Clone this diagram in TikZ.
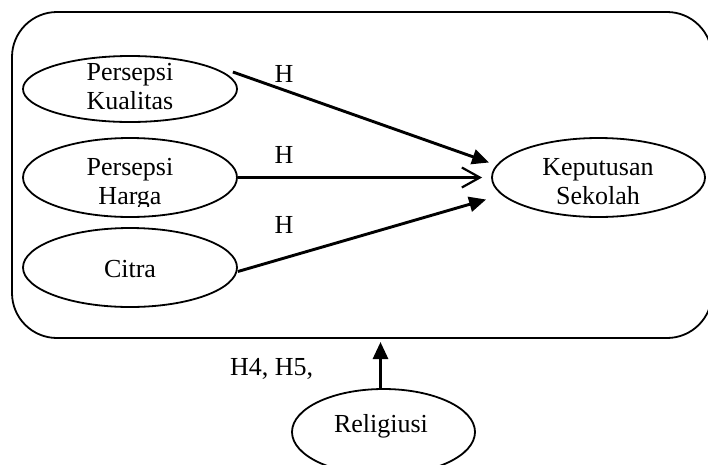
\documentclass[tikz,border=0pt]{standalone}
\usepackage{fontspec}
\setmainfont{Liberation Serif}
\usetikzlibrary{shapes.geometric,arrows.meta,calc}
\begin{document}
\begin{tikzpicture}[x=1pt,y=-1pt,
  txt/.style={font=\fontsize{26}{29}\selectfont, anchor=base, inner sep=0pt},
  oval/.style={draw, ellipse, line width=1.8pt, inner sep=0pt, minimum width=214pt, minimum height=79pt},
  conn/.style={line width=2.9pt},
  tri/.style={conn, -{Triangle[length=17pt,width=15pt]}},
  barb/.style={conn, -{Straight Barb[length=18pt,width=20pt,line width=2.2pt]}},
  frame/.style={draw, line width=1.8pt, rounded corners=45pt}]
\useasboundingbox (0,0) rectangle (708,464);

% outer frame
\draw[frame] (12,12) rectangle (712,338);

% ellipses
\node[oval, minimum height=66pt] (pk) at (130,89) {};
\node[oval] (ph) at (130,177.5) {};
\node[oval] (ci) at (130,267.5) {};
\node[oval, minimum width=213pt] (kep) at (598.5,177.5) {};
\node[oval, minimum width=183pt, minimum height=86pt] (rel) at (383.5,432) {};

% texts
\node[txt] (tpk1) at (130,80) {Persepsi};
\node[txt] (tpk2) at (130,109) {Kualitas};
\node[txt] (tph1) at (130,175) {Persepsi};
\begin{scope}
  \clip (0,0) rectangle (708,206);
  \node[txt] (tph2) at (130,204) {Harga};
\end{scope}
\node[txt] (tci) at (130,277) {Citra};
\node[txt] (tk1) at (598,175) {Keputusan};
\node[txt] (tk2) at (598,204) {Sekolah};
\node[txt] (trel) at (381,432) {Religiusi};

\node[txt] (h1) at (284,82) {H};
\node[txt] (h2) at (284,163) {H};
\node[txt] (h3) at (284,233) {H};
\node[txt, anchor=base west] (h45) at (230,375) {H4, H5,};

% connector end points
\coordinate (pkS) at ($(pk.east)+(-5,-17)$);
\coordinate (ciS) at ($(ci.east)+(0,4)$);
\coordinate (kA) at ($(kep.west)+(-2,-15)$);
\coordinate (kB) at ($(kep.west)+(-9,0)$);
\coordinate (kC) at ($(kep.west)+(-5,22)$);
\coordinate (relS) at ($(rel.north)+(-3,0)$);
\coordinate (fB) at (380.5,342);

\draw[tri] (pkS) -- (kA);
\draw[barb] (ph.east) -- (kB);
\draw[tri] (ciS) -- (kC);
\draw[tri] (relS) -- (fB);
\end{tikzpicture}
\end{document}
